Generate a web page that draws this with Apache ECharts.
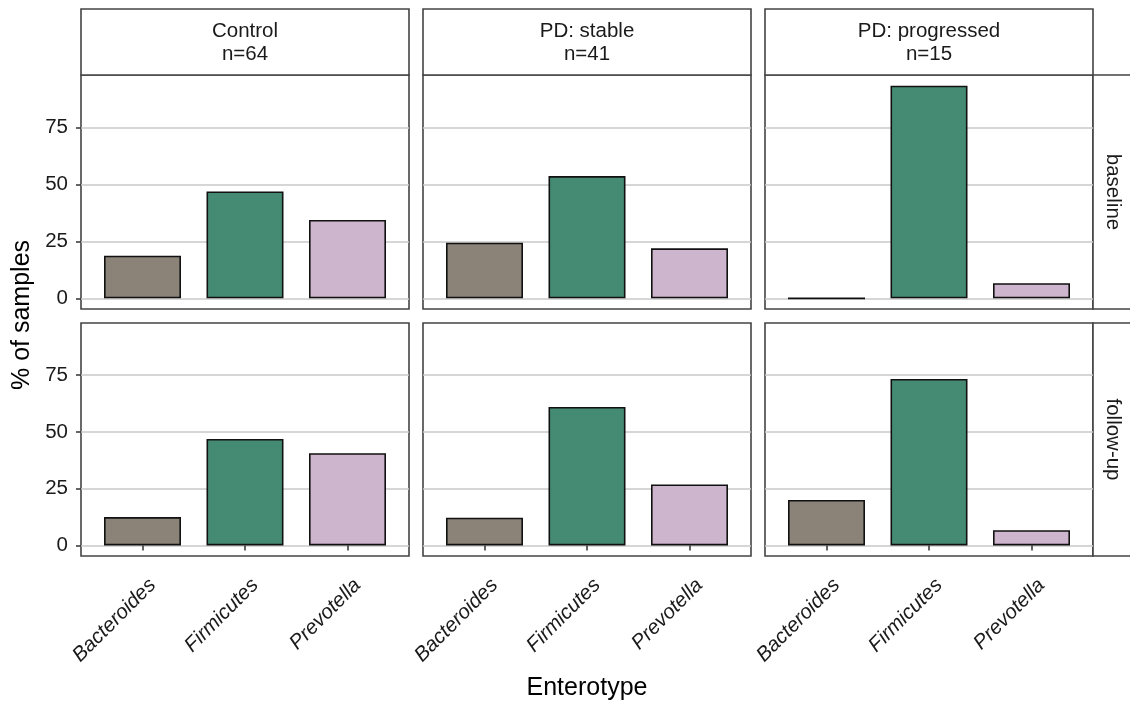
<!DOCTYPE html>
<html>
<head>
<meta charset="utf-8">
<script src="https://cdn.jsdelivr.net/npm/echarts@6/dist/echarts.min.js"></script>
<style>
html,body{margin:0;padding:0;background:#fff;}
#chart{width:1130px;height:704px;}
</style>
</head>
<body>
<div id="chart"></div>
<script>
// ---- data ----
const categories = ['Bacteroides', 'Firmicutes', 'Prevotella'];
const groups = ['Control\nn=64', 'PD: stable\nn=41', 'PD: progressed\nn=15'];
const timepoints = ['baseline', 'follow-up'];
const yTicks = [0, 25, 50, 75];
const xTicks = [1, 2, 3];

const controlBaseline    = [18.75, 46.88, 34.38];
const stableBaseline     = [24.39, 53.66, 21.95];
const progressedBaseline = [0, 93.33, 6.67];
const controlFollowup    = [12.5, 46.88, 40.63];
const stableFollowup     = [12.2, 60.98, 26.83];
const progressedFollowup = [20, 73.33, 6.67];

const panelValues = [
  [controlBaseline, stableBaseline, progressedBaseline],
  [controlFollowup, stableFollowup, progressedFollowup]
];

// ---- style / layout ----
const fills = ['#8B8378', '#458B74', '#CDB5CD'];
const FONT = '"Liberation Sans", Arial, Helvetica, sans-serif';
const colLeft = [81, 423, 765];
const colWidth = 328;
const rowTop = [75, 323];
const rowHeight = [234, 233];
const stripTop = 9;
const rightStripLeft = 1093;
const borderColor = '#444';
const borderW = 1.6;
const textColor = '#1a1a1a';
const smallSize = 20.5;
const titleSize = 25;

const grids = [], xAxes = [], yAxes = [], series = [];
let idx = 0;
for (let r = 0; r < 2; r++) {
  for (let c = 0; c < 3; c++) {
    grids.push({
      left: colLeft[c], top: rowTop[r], width: colWidth, height: rowHeight[r],
      show: true, borderColor: borderColor, borderWidth: borderW, backgroundColor: 'transparent',
      containLabel: false, outerBoundsMode: 'none'
    });
    const bottomRow = r === 1;
    const leftCol = c === 0;
    xAxes.push({
      type: 'value', gridIndex: idx, min: 0.4, max: 3.6,
      axisLine: { show: false },
      splitLine: { show: false },
      axisTick: { show: bottomRow, customValues: xTicks, length: 5, lineStyle: { color: '#333', width: 1.5 } },
      axisLabel: {
        show: bottomRow,
        customValues: xTicks.map(v => v + 0.03),
        formatter: v => categories[Math.round(v) - 1],
        rotate: 45, align: 'right', verticalAlign: 'top', margin: 19,
        fontStyle: 'italic', fontSize: smallSize, fontFamily: FONT, color: textColor
      }
    });
    yAxes.push({
      type: 'value', gridIndex: idx, min: -4.6667, max: 98,
      axisLine: { show: false },
      splitLine: { show: true, lineStyle: { color: '#c8c8c8', width: 1.5 } },
      axisTick: { show: leftCol, customValues: yTicks, length: 5, lineStyle: { color: '#333', width: 1.5 } },
      axisLabel: {
        show: leftCol, customValues: yTicks, margin: 13,
        fontSize: smallSize, fontFamily: FONT, color: textColor
      }
    });
    series.push({
      type: 'bar', xAxisIndex: idx, yAxisIndex: idx,
      barWidth: 77,
      itemStyle: { borderColor: '#111', borderWidth: 1.6 },
      emphasis: { disabled: true },
      data: panelValues[r][c].map((v, k) => ({ value: [xTicks[k], v], itemStyle: { color: fills[k] } }))
    });
    idx++;
  }
}

const graphics = [];
// top strips
for (let c = 0; c < 3; c++) {
  graphics.push({
    type: 'rect', shape: { x: colLeft[c], y: stripTop, width: colWidth, height: rowTop[0] - stripTop },
    style: { fill: '#fff', stroke: borderColor, lineWidth: borderW }, silent: true
  });
  graphics.push({
    type: 'text', x: colLeft[c] + colWidth / 2, y: (stripTop + rowTop[0]) / 2 + 1,
    style: { text: groups[c], fill: textColor, font: smallSize + 'px ' + FONT, align: 'center', verticalAlign: 'middle', lineHeight: 23 },
    silent: true
  });
}
// right strips
for (let r = 0; r < 2; r++) {
  graphics.push({
    type: 'rect', shape: { x: rightStripLeft, y: rowTop[r], width: 41, height: rowHeight[r] },
    style: { fill: '#fff', stroke: borderColor, lineWidth: borderW }, silent: true
  });
  graphics.push({
    type: 'text', x: rightStripLeft + 20, y: rowTop[r] + rowHeight[r] / 2, rotation: -Math.PI / 2,
    style: { text: timepoints[r], fill: textColor, font: smallSize + 'px ' + FONT, align: 'center', verticalAlign: 'middle' },
    silent: true
  });
}
// axis titles
graphics.push({
  type: 'text', x: 22, y: 315, rotation: Math.PI / 2,
  style: { text: '% of samples', fill: '#000', font: titleSize + 'px ' + FONT, align: 'center', verticalAlign: 'middle' },
  silent: true
});
graphics.push({
  type: 'text', x: 587, y: 688,
  style: { text: 'Enterotype', fill: '#000', font: titleSize + 'px ' + FONT, align: 'center', verticalAlign: 'middle' },
  silent: true
});

const chart = echarts.init(document.getElementById('chart'), null, { renderer: 'canvas' });
chart.setOption({
  animation: false,
  backgroundColor: '#fff',
  grid: grids, xAxis: xAxes, yAxis: yAxes, series: series,
  graphic: graphics
});
</script>
</body>
</html>
